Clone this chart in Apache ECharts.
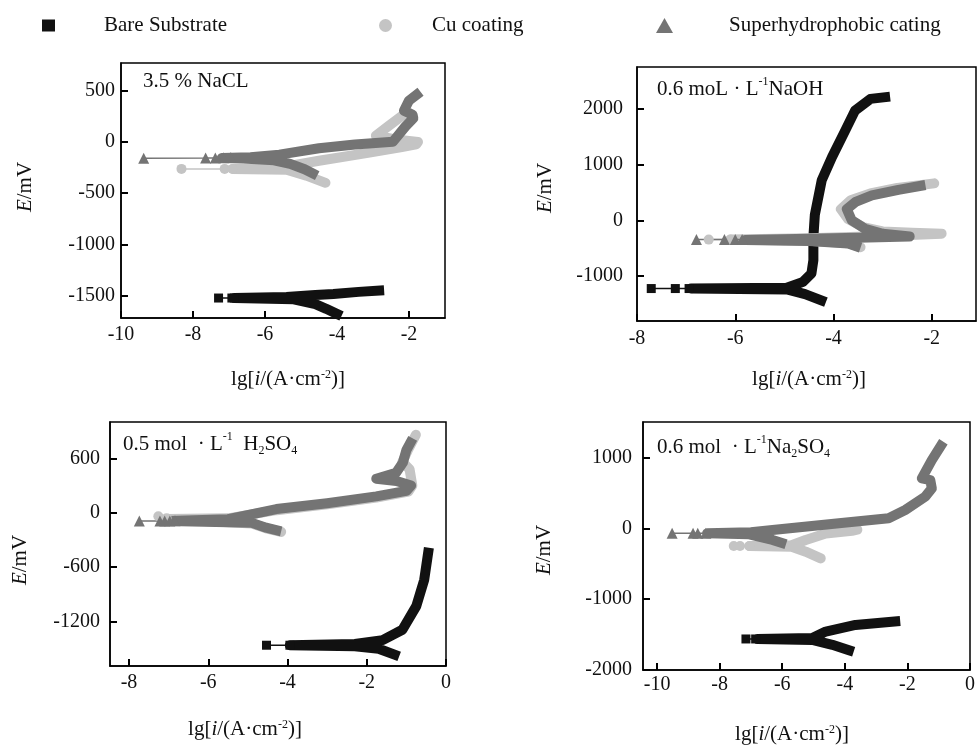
<!DOCTYPE html>
<html><head><meta charset="utf-8">
<script src="https://cdn.jsdelivr.net/npm/echarts@6/dist/echarts.min.js"></script>
<style>html,body{margin:0;padding:0;background:#fff}#c{width:978px;height:751px}</style>
</head><body><div id="c"></div>
<script>
// ---------- legend / series names ----------
const seriesNames = ['Bare Substrate', 'Cu coating', 'Superhydrophobic cating'];

// ---------- panel labels & axis titles ----------
const panelLabels = [
  '3.5 % NaCL',
  '0.6 moL · L{sup|-1}NaOH',
  '0.5 mol  · L{sup|-1}  H{sub|2}SO{sub|4}',
  '0.6 mol  · L{sup|-1}Na{sub|2}SO{sub|4}'
];
const xTitle = 'lg[{it|i}/(A·cm{sup|-2})]';
const yTitle = '{it|E}/mV';

// ---------- tick labels ----------
const naclXTicks = [-10, -8, -6, -4, -2];
const naclYTicks = [-1500, -1000, -500, 0, 500];
const naohXTicks = [-8, -6, -4, -2];
const naohYTicks = [-1000, 0, 1000, 2000];
const h2so4XTicks = [-8, -6, -4, -2, 0];
const h2so4YTicks = [-1200, -600, 0, 600];
const na2so4XTicks = [-10, -8, -6, -4, -2, 0];
const na2so4YTicks = [-2000, -1000, 0, 1000];

// ---------- data: [lg i, E (mV)] ----------
// 3.5 % NaCL
const naclBareTip = [[-7.29,-1525],[-6.92,-1525],[-6.85,-1525]];
const naclBareBand = [[-4.0,-1680],[-4.3,-1630],[-4.6,-1585],[-5.2,-1538],[-6.85,-1525],[-5.4,-1515],[-4.6,-1495],[-4.1,-1485],[-3.4,-1465],[-2.83,-1452]];
const naclCuTip = [[-8.32,-264],[-7.12,-264],[-6.9,-264]];
const naclCuBand = [[-4.32,-400],[-4.85,-330],[-5.4,-272],[-6.9,-264],[-5.6,-252],[-4.5,-185],[-3.1,-105],[-2.2,-50],[-1.8,-25],[-1.75,0],[-2.3,20],[-2.92,61],[-2.55,160],[-2.18,257],[-2.1,300]];
const naclShTip = [[-9.37,-160],[-7.65,-158],[-7.38,-157],[-7.15,-155],[-6.95,-153]];
const naclShBand = [[-4.55,-330],[-4.9,-268],[-5.3,-215],[-5.75,-180],[-6.6,-163],[-7.2,-158],[-6.4,-150],[-5.6,-125],[-4.5,-62],[-3.5,-25],[-2.45,0],[-2.1,150],[-1.88,230],[-1.9,265],[-2.14,305],[-2.0,403],[-1.68,490]];

// 0.6 mol/L NaOH
const naohBareTip = [[-7.71,-1220],[-7.22,-1220],[-6.94,-1220]];
const naohBareBand = [[-4.25,-1430],[-4.58,-1320],[-4.95,-1235],[-6.9,-1220],[-4.95,-1205],[-4.62,-1100],[-4.45,-950],[-4.41,-714],[-4.41,-300],[-4.38,100],[-4.24,714],[-4.03,1131],[-3.76,1607],[-3.56,1964],[-3.25,2170],[-2.95,2200]];
const naohCuTip = [[-6.54,-345],[-6.1,-345]];
const naohCuBand = [[-3.45,-480],[-3.7,-410],[-4.5,-365],[-6.1,-345],[-4.5,-320],[-3.5,-295],[-2.45,-262],[-1.8,-240],[-2.4,-222],[-3.0,-200],[-3.4,-120],[-3.7,20],[-3.85,200],[-3.65,360],[-3.25,480],[-2.7,580],[-1.95,660]];
const naohShTip = [[-6.79,-345],[-6.22,-345],[-6.0,-345],[-5.86,-345]];
const naohShBand = [[-3.45,-490],[-3.7,-415],[-4.5,-370],[-5.8,-350],[-4.5,-330],[-3.5,-312],[-2.45,-290],[-3.0,-240],[-3.36,-150],[-3.63,0],[-3.73,200],[-3.55,330],[-3.22,446],[-2.68,545],[-2.13,630]];

// 0.5 mol/L H2SO4
const h2so4BareTip = [[-4.53,-1461],[-3.94,-1461]];
const h2so4BareBand = [[-1.3,-1565],[-1.7,-1500],[-2.3,-1472],[-3.94,-1462],[-2.3,-1448],[-1.6,-1405],[-1.1,-1290],[-0.75,-1030],[-0.55,-740],[-0.45,-440]];
const h2so4CuTip = [[-7.26,-40],[-7.05,-60]];
const h2so4CuBand = [[-4.16,-212],[-4.54,-172],[-4.9,-118],[-7.05,-70],[-5.5,-62],[-4.28,28],[-3.0,92],[-1.76,168],[-0.95,232],[-0.85,300],[-0.92,480],[-1.1,560],[-0.95,700],[-0.76,860]];
const h2so4ShTip = [[-7.74,-92],[-7.22,-92],[-7.1,-92],[-6.97,-92],[-6.84,-90]];
const h2so4ShBand = [[-4.16,-205],[-4.54,-165],[-4.9,-112],[-7.0,-92],[-5.5,-72],[-4.28,40],[-3.0,105],[-1.76,180],[-1.0,240],[-0.88,300],[-1.25,350],[-1.76,375],[-1.26,440],[-1.09,550],[-1.0,690],[-0.84,820]];

// 0.6 mol/L Na2SO4
const na2so4BareTip = [[-7.16,-1562],[-6.85,-1562]];
const na2so4BareBand = [[-3.87,-1720],[-4.4,-1645],[-5.04,-1575],[-6.79,-1562],[-5.04,-1550],[-4.61,-1458],[-3.66,-1364],[-2.39,-1315]];
const na2so4CuTip = [[-7.55,-250],[-7.35,-250],[-7.05,-250]];
const na2so4CuBand = [[-4.77,-425],[-5.25,-330],[-5.7,-260],[-7.05,-250],[-5.7,-240],[-5.25,-165],[-4.61,-75],[-3.77,-35],[-3.6,-20]];
const na2so4ShTip = [[-9.52,-71],[-8.85,-71],[-8.7,-71],[-8.44,-70]];
const na2so4ShBand = [[-5.88,-225],[-6.31,-165],[-7.05,-85],[-8.4,-70],[-7.0,-55],[-6.31,-24],[-4.19,70],[-2.6,141],[-2.07,258],[-1.43,446],[-1.22,564],[-1.27,681],[-1.54,705],[-1.22,963],[-0.85,1221]];

// ---------- styling ----------
const FONT = 'Liberation Serif';
const TXT = '#111';
const curveStyle = [
  {color:'#111111', symbol:'rect', size:9, cap:'square'},
  {color:'#c4c4c4', symbol:'circle', size:10, cap:'round'},
  {color:'#747474', symbol:'triangle', size:11, cap:'butt'}
];
const panels = [
  {grid:{left:121, top:63, width:324, height:255}, x:[-10,-1], y:[-1720,770], xt:naclXTicks, yt:naclYTicks,
   curves:[[naclBareTip,naclBareBand],[naclCuTip,naclCuBand],[naclShTip,naclShBand]],
   xName:[288,379], yName:[25,187], xm:7, ym:6, lab:{left:143, top:68}},
  {grid:{left:637, top:67, width:339, height:254}, x:[-8,-1.1], y:[-1800,2740], xt:naohXTicks, yt:naohYTicks,
   curves:[[naohBareTip,naohBareBand],[naohCuTip,naohCuBand],[naohShTip,naohShBand]],
   xName:[809,379], yName:[545,188], xm:8, ym:14, lab:{left:657, top:76}},
  {grid:{left:110, top:422, width:336, height:244}, x:[-8.48,0], y:[-1690,1000], xt:h2so4XTicks, yt:h2so4YTicks,
   curves:[[h2so4BareTip,h2so4BareBand],[h2so4CuTip,h2so4CuBand],[h2so4ShTip,h2so4ShBand]],
   xName:[245,729], yName:[20,560], xm:7, ym:10, lab:{left:123, top:431}},
  {grid:{left:643, top:422, width:329, height:248}, x:[-10.45,0], y:[-2000,1500], xt:na2so4XTicks, yt:na2so4YTicks,
   curves:[[na2so4BareTip,na2so4BareBand],[na2so4CuTip,na2so4CuBand],[na2so4ShTip,na2so4ShBand]],
   xName:[792,734], yName:[544,550], xm:5, ym:11, lab:{left:657, top:434}}
];

const makeRich = () => ({
  it:{fontFamily:FONT, fontSize:21, fontStyle:'italic', fill:TXT, color:TXT},
  sup:{fontFamily:FONT, fontSize:12, verticalAlign:'top', fill:TXT, color:TXT},
  sub:{fontFamily:FONT, fontSize:12, verticalAlign:'bottom', fill:TXT, color:TXT}
});
const plain = v => String(v);

const grids = [], xAxes = [], yAxes = [], series = [], titles = [], graphics = [];
panels.forEach((p, i) => {
  grids.push(Object.assign({show:true, borderColor:'#000', borderWidth:1.5}, p.grid));
  xAxes.push({
    type:'value', gridIndex:i, min:p.x[0], max:p.x[1], position:'bottom',
    axisLine:{show:true, onZero:false, lineStyle:{color:'#000', width:1.5}}, splitLine:{show:false},
    axisTick:{show:true, inside:true, length:7, lineStyle:{color:'#000', width:2}, customValues:p.xt},
    axisLabel:{fontFamily:FONT, fontSize:20, color:TXT, margin:p.xm, customValues:p.xt, formatter:plain}
  });
  yAxes.push({
    type:'value', gridIndex:i, min:p.y[0], max:p.y[1], position:'left',
    axisLine:{show:true, onZero:false, lineStyle:{color:'#000', width:1.5}}, splitLine:{show:false},
    axisTick:{show:true, inside:true, length:7, lineStyle:{color:'#000', width:2}, customValues:p.yt},
    axisLabel:{fontFamily:FONT, fontSize:20, color:TXT, margin:p.ym, customValues:p.yt, formatter:plain}
  });
  titles.push({text:panelLabels[i], left:p.lab.left, top:p.lab.top, padding:0,
    textStyle:{fontFamily:FONT, fontSize:21, fontWeight:'normal', color:TXT, lineHeight:26, rich:makeRich()}});
  graphics.push({type:'text', x:p.xName[0], y:p.xName[1], silent:true,
    style:{text:xTitle, fontFamily:FONT, fontSize:21, fill:TXT, align:'center', verticalAlign:'middle', rich:makeRich()}});
  graphics.push({type:'text', x:p.yName[0], y:p.yName[1], rotation:Math.PI / 2, silent:true,
    style:{text:yTitle, fontFamily:FONT, fontSize:21, fill:TXT, align:'center', verticalAlign:'middle', rich:makeRich()}});
  p.curves.forEach((c, k) => {
    const st = curveStyle[k];
    series.push({
      type:'line', name:seriesNames[k] + ' (band)', xAxisIndex:i, yAxisIndex:i, data:c[1],
      symbol:'none', z:2, lineStyle:{color:st.color, width:10, cap:st.cap, join:'round'}
    });
    series.push({
      type:'line', name:seriesNames[k], xAxisIndex:i, yAxisIndex:i, data:c[0],
      symbol:st.symbol, symbolSize:st.size, showSymbol:true, z:2,
      itemStyle:{color:st.color}, lineStyle:{color:st.color, width:1.5}
    });
  });
});

const legendText = () => ({fontFamily:FONT, fontSize:21, color:TXT});
const option = {
  animation:false,
  title:titles,
  legend:[
    {data:[{name:seriesNames[0], icon:'rect'}], left:42, top:15, itemWidth:13, itemHeight:12, padding:0,
     textStyle:Object.assign({padding:[0,0,0,44]}, legendText())},
    {data:[{name:seriesNames[1], icon:'circle'}], left:379, top:15, itemWidth:13, itemHeight:13, padding:0,
     textStyle:Object.assign({padding:[0,0,0,35]}, legendText())},
    {data:[{name:seriesNames[2], icon:'triangle'}], left:656, top:15, itemWidth:17, itemHeight:15, padding:0,
     textStyle:Object.assign({padding:[0,0,0,51]}, legendText())}
  ],
  graphic:graphics,
  grid:grids, xAxis:xAxes, yAxis:yAxes, series:series
};
const chart = echarts.init(document.getElementById('c'));
chart.setOption(option);
</script>
</body></html>
